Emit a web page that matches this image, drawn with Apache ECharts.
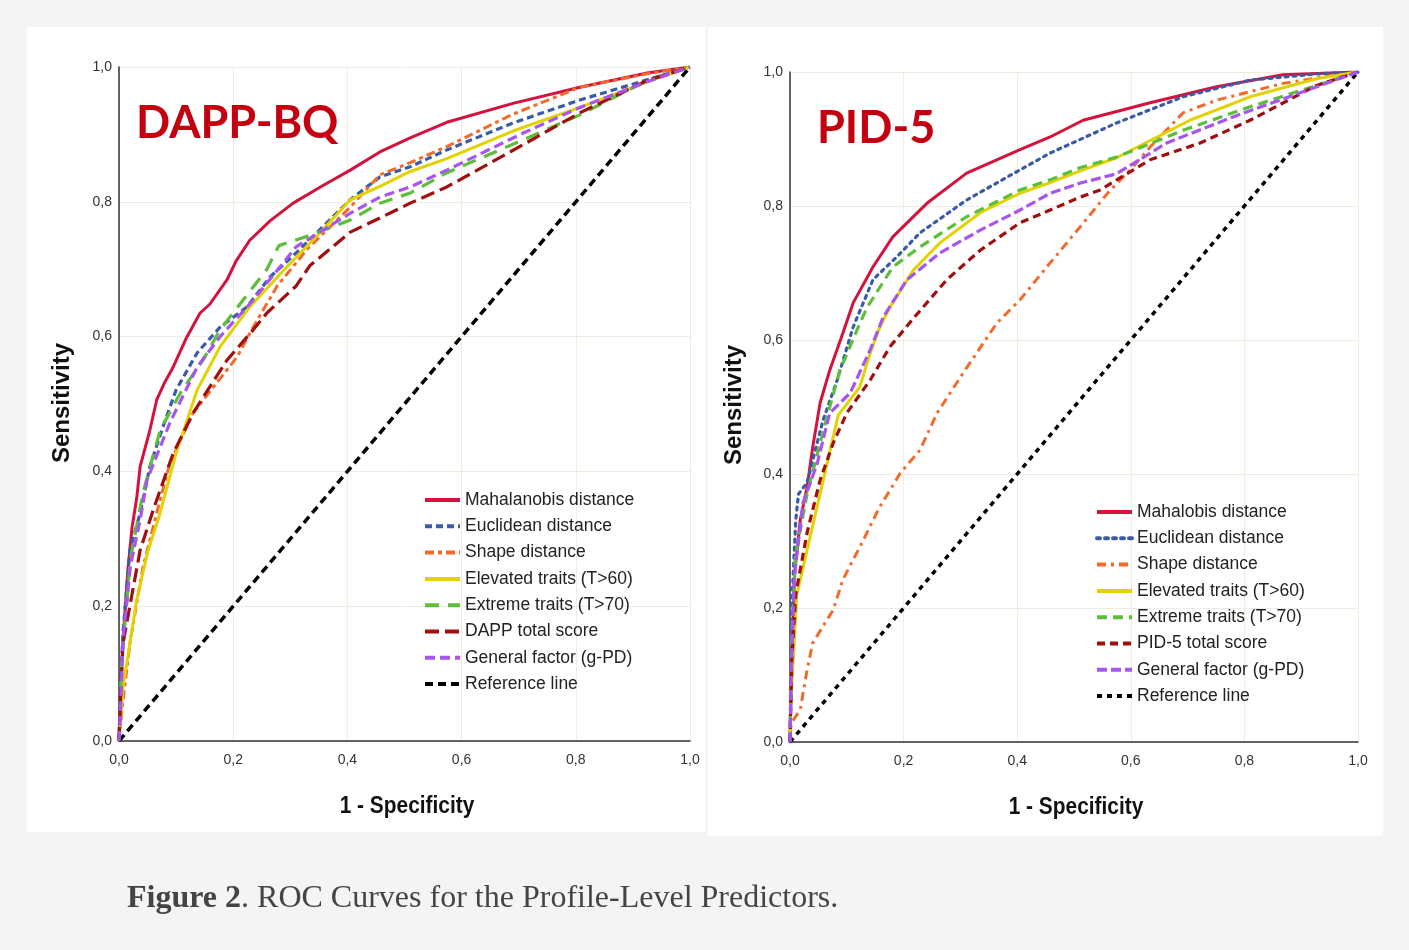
<!DOCTYPE html>
<html><head><meta charset="utf-8">
<script src="https://cdn.jsdelivr.net/npm/echarts@6/dist/echarts.min.js"></script>
<style>html,body{margin:0;padding:0;background:#f4f4f4}#c{width:1409px;height:950px}</style>
</head><body><div id="c"></div>
<script>
// ---------- axis ticks ----------
const tickValues = [0, 0.2, 0.4, 0.6, 0.8, 1.0];
const panelTitles = ['DAPP-BQ', 'PID-5'];
const xAxisTitle = '1 - Specificity';
const yAxisTitle = 'Sensitivity';
const caption = ['Figure 2', '. ROC Curves for the Profile-Level Predictors.'];

// ---------- legend names ----------
const namesDAPP = ['Mahalanobis distance','Euclidean distance','Shape distance','Elevated traits (T>60)','Extreme traits (T>70)','DAPP total score','General factor (g-PD)','Reference line'];
const namesPID = ['Mahalobis distance','Euclidean distance','Shape distance','Elevated traits (T>60)','Extreme traits (T>70)','PID-5 total score','General factor (g-PD)','Reference line'];

// ---------- DAPP-BQ curves [1-specificity, sensitivity] ----------
const dappMaha = [[0,0],[0.003,0.08],[0.007,0.15],[0.016,0.258],[0.023,0.318],[0.031,0.36],[0.037,0.407],[0.054,0.461],[0.066,0.506],[0.08,0.532],[0.095,0.555],[0.118,0.598],[0.142,0.635],[0.159,0.648],[0.189,0.684],[0.205,0.712],[0.229,0.743],[0.265,0.772],[0.305,0.798],[0.355,0.823],[0.405,0.847],[0.457,0.874],[0.51,0.895],[0.574,0.918],[0.69,0.946],[0.807,0.97],[0.925,0.991],[1,1]];
const dappEucl = [[0,0],[0.003,0.09],[0.007,0.16],[0.019,0.283],[0.037,0.338],[0.054,0.407],[0.077,0.466],[0.10,0.521],[0.137,0.576],[0.177,0.614],[0.224,0.644],[0.264,0.688],[0.31,0.724],[0.357,0.763],[0.405,0.803],[0.457,0.837],[0.51,0.852],[0.574,0.877],[0.69,0.917],[0.807,0.951],[0.925,0.981],[1,1]];
const dappShape = [[0,0],[0.007,0.06],[0.02,0.15],[0.042,0.258],[0.066,0.338],[0.089,0.412],[0.13,0.487],[0.207,0.57],[0.235,0.614],[0.277,0.675],[0.33,0.73],[0.405,0.792],[0.457,0.84],[0.51,0.858],[0.574,0.882],[0.69,0.93],[0.807,0.97],[0.925,0.99],[1,1]];
const dappElev = [[0,0],[0.007,0.08],[0.031,0.209],[0.05,0.28],[0.072,0.338],[0.10,0.427],[0.137,0.521],[0.177,0.585],[0.229,0.644],[0.29,0.70],[0.352,0.754],[0.405,0.803],[0.457,0.823],[0.51,0.845],[0.574,0.864],[0.69,0.905],[0.807,0.94],[0.925,0.978],[1,1]];
const dappExtr = [[0,0],[0.005,0.12],[0.02,0.27],[0.042,0.368],[0.072,0.461],[0.11,0.52],[0.147,0.565],[0.177,0.61],[0.217,0.654],[0.259,0.70],[0.28,0.735],[0.334,0.75],[0.405,0.773],[0.457,0.798],[0.51,0.813],[0.574,0.843],[0.708,0.892],[0.807,0.929],[0.925,0.98],[1,1]];
const dappTotal = [[0,0],[0.003,0.07],[0.007,0.145],[0.037,0.283],[0.06,0.343],[0.095,0.427],[0.13,0.487],[0.189,0.565],[0.235,0.61],[0.259,0.635],[0.31,0.675],[0.334,0.705],[0.405,0.755],[0.457,0.776],[0.51,0.798],[0.574,0.822],[0.70,0.881],[0.807,0.932],[0.925,0.98],[1,1]];
const dappGen = [[0,0],[0.002,0.03],[0.007,0.15],[0.02,0.26],[0.037,0.328],[0.049,0.387],[0.089,0.472],[0.137,0.555],[0.177,0.60],[0.235,0.654],[0.31,0.733],[0.405,0.783],[0.457,0.807],[0.51,0.822],[0.574,0.847],[0.708,0.902],[0.807,0.94],[0.925,0.978],[1,1]];

// ---------- PID-5 curves ----------
const pidMaha = [[0,0],[0.003,0.12],[0.008,0.25],[0.018,0.331],[0.03,0.38],[0.04,0.44],[0.053,0.506],[0.07,0.555],[0.093,0.61],[0.111,0.655],[0.146,0.709],[0.181,0.754],[0.241,0.804],[0.311,0.849],[0.405,0.884],[0.458,0.903],[0.516,0.928],[0.634,0.954],[0.751,0.978],[0.868,0.996],[1,1]];
const pidEucl = [[0,0],[0.003,0.2],[0.01,0.33],[0.015,0.37],[0.03,0.387],[0.058,0.48],[0.083,0.54],[0.111,0.619],[0.146,0.69],[0.188,0.724],[0.229,0.76],[0.311,0.809],[0.405,0.854],[0.458,0.879],[0.51,0.899],[0.575,0.924],[0.692,0.963],[0.81,0.988],[0.927,0.997],[1,1]];
const pidShape = [[0,0],[0.002,0.028],[0.018,0.048],[0.03,0.107],[0.04,0.148],[0.076,0.197],[0.093,0.242],[0.111,0.272],[0.123,0.291],[0.158,0.351],[0.194,0.401],[0.229,0.436],[0.259,0.491],[0.305,0.551],[0.364,0.625],[0.405,0.66],[0.452,0.709],[0.51,0.768],[0.56,0.82],[0.6,0.855],[0.634,0.888],[0.692,0.939],[0.751,0.958],[0.868,0.983],[0.956,0.995],[1,1]];
const pidElev = [[0,0],[0.001,0.05],[0.012,0.22],[0.085,0.488],[0.123,0.53],[0.141,0.58],[0.158,0.619],[0.176,0.649],[0.217,0.704],[0.264,0.745],[0.335,0.79],[0.405,0.819],[0.458,0.835],[0.51,0.852],[0.575,0.872],[0.704,0.928],[0.81,0.963],[0.927,0.99],[1,1]];
const pidExtr = [[0,0],[0.003,0.15],[0.01,0.28],[0.03,0.37],[0.065,0.485],[0.088,0.555],[0.123,0.625],[0.136,0.649],[0.181,0.709],[0.229,0.739],[0.311,0.784],[0.405,0.824],[0.458,0.839],[0.51,0.857],[0.575,0.873],[0.692,0.913],[0.81,0.948],[0.927,0.98],[1,1]];
const pidTotal = [[0,0],[0.003,0.12],[0.01,0.22],[0.03,0.312],[0.053,0.391],[0.076,0.446],[0.1,0.491],[0.141,0.54],[0.176,0.59],[0.217,0.632],[0.276,0.69],[0.335,0.734],[0.405,0.775],[0.458,0.794],[0.51,0.813],[0.546,0.824],[0.634,0.869],[0.722,0.894],[0.81,0.928],[0.927,0.98],[1,1]];
const pidGen = [[0,0],[0.002,0.1],[0.008,0.25],[0.023,0.357],[0.048,0.416],[0.07,0.491],[0.106,0.521],[0.141,0.585],[0.164,0.634],[0.206,0.69],[0.264,0.73],[0.335,0.764],[0.405,0.794],[0.458,0.819],[0.51,0.834],[0.575,0.848],[0.663,0.894],[0.78,0.933],[0.898,0.969],[1,1]];

const refLine = [[0,0],[1,1]];

// ---------- styles ----------
const colors = ['#d4123c','#3a5ca8','#f26b2a','#e2d200','#5cbf3a','#a00e0e','#a855f0','#000000'];
const dashDAPP = ['solid',[7,4],[9,4,4,4],'solid',[14,9],[14,6],[10,5],[8,5]];
const dashPID = ['solid',[3,5],[9,5,3,5],'solid',[10,6],[8,5],[10,4],[5,5]];
const widths = [3,3.2,3,3,3.2,3.2,3.2,3.5];

const dappData = [dappMaha,dappEucl,dappShape,dappElev,dappExtr,dappTotal,dappGen,refLine];
const pidData = [pidMaha,pidEucl,pidShape,pidElev,pidExtr,pidTotal,pidGen,refLine];

const fmt = v => v.toFixed(1).replace('.', ',');
const sans = "'Liberation Sans',Arial,sans-serif";

function makeAxis(idx, isX) {
  return {
    type: 'value', gridIndex: idx, min: 0, max: 1, interval: 0.2,
    axisLine: {show: true, onZero: false, lineStyle: {color: '#333', width: 1.5}},
    axisTick: {show: false},
    axisLabel: {formatter: fmt, fontSize: 14, color: '#333', margin: isX ? 12 : 7, fontFamily: sans},
    splitLine: {show: true, lineStyle: {color: '#efede2', width: 1}}
  };
}

const series = [];
[dappData, pidData].forEach((set, g) => {
  const names = g === 0 ? namesDAPP : namesPID;
  const dashes = g === 0 ? dashDAPP : dashPID;
  set.forEach((d, i) => {
    series.push({
      type: 'line', name: names[i] + (g === 1 ? '\u200b' : ''), xAxisIndex: g, yAxisIndex: g,
      data: d, symbol: 'none', showSymbol: false, smooth: false, silent: true,
      lineStyle: {color: colors[i], width: widths[i], type: dashes[i], cap: (g === 1 && i === 1) ? 'round' : 'butt'},
      itemStyle: {color: colors[i]},
      z: i === 7 ? 1 : 2 + i
    });
  });
});

function legendFor(g) {
  const names = g === 0 ? namesDAPP : namesPID;
  const dashes = g === 0 ? dashDAPP : dashPID;
  return {
    type: 'plain', orient: 'vertical', selectedMode: false, padding: 0,
    left: g === 0 ? 423 : 1095, top: g === 0 ? 491 : 503,
    itemWidth: 35, itemHeight: 14, itemGap: 8.3,
    textStyle: {fontSize: 17.5, color: '#222', fontFamily: sans},
    data: names.map((n, i) => ({
      name: n + (g === 1 ? '\u200b' : ''),
      itemStyle: {opacity: 0},
      lineStyle: {color: colors[i], width: 4, type: dashes[i]}
    })),
    formatter: n => n.replace('\u200b', '')
  };
}

function axisTitle(text, x, y, rotate, sx) {
  return {type: 'text', x: x, y: y, rotation: rotate ? Math.PI / 2 : 0, scaleX: sx, silent: true,
    style: {text: text, fontSize: 24, fontWeight: 'bold', fontFamily: sans, fill: '#111', align: 'center', verticalAlign: 'middle'}};
}

const option = {
  backgroundColor: '#f4f4f4',
  animation: false,
  title: [
    {text: panelTitles[0], left: 131, top: 96, textStyle: {fontSize: 45, fontWeight: 'bold', color: '#c40010', fontFamily: "Lato,'Open Sans',sans-serif"}},
    {text: panelTitles[1], left: 812, top: 101, textStyle: {fontSize: 45, fontWeight: 'bold', color: '#c40010', fontFamily: "Lato,'Open Sans',sans-serif"}}
  ],
  grid: [
    {left: 119, top: 67, width: 571, height: 674, containLabel: false},
    {left: 790, top: 72, width: 568, height: 670, containLabel: false}
  ],
  xAxis: [makeAxis(0, true), makeAxis(1, true)],
  yAxis: [makeAxis(0, false), makeAxis(1, false)],
  legend: [legendFor(0), legendFor(1)],
  graphic: [
    {type: 'rect', z: -10, silent: true, shape: {x: 27, y: 27, width: 678, height: 805}, style: {fill: '#ffffff'}},
    {type: 'rect', z: -10, silent: true, shape: {x: 708, y: 27, width: 675, height: 809}, style: {fill: '#ffffff'}},
    axisTitle(xAxisTitle, 407, 806, false, 0.87),
    axisTitle(xAxisTitle, 1076, 807, false, 0.87),
    axisTitle(yAxisTitle, 62, 403, true, 1.0),
    axisTitle(yAxisTitle, 734, 405, true, 1.0),
    {type: 'text', x: 127, y: 899, silent: true,
      style: {text: '{b|' + caption[0] + '}{r|' + caption[1] + '}', verticalAlign: 'middle',
        rich: {b: {fontFamily: "'Liberation Serif','Times New Roman',serif", fontSize: 32, fontWeight: 'bold', fill: '#444'},
               r: {fontFamily: "'Liberation Serif','Times New Roman',serif", fontSize: 32, fill: '#444'}}}}
  ],
  series: series
};

const chart = echarts.init(document.getElementById('c'), null, {renderer: 'canvas'});
chart.setOption(option);
</script>
</body></html>
